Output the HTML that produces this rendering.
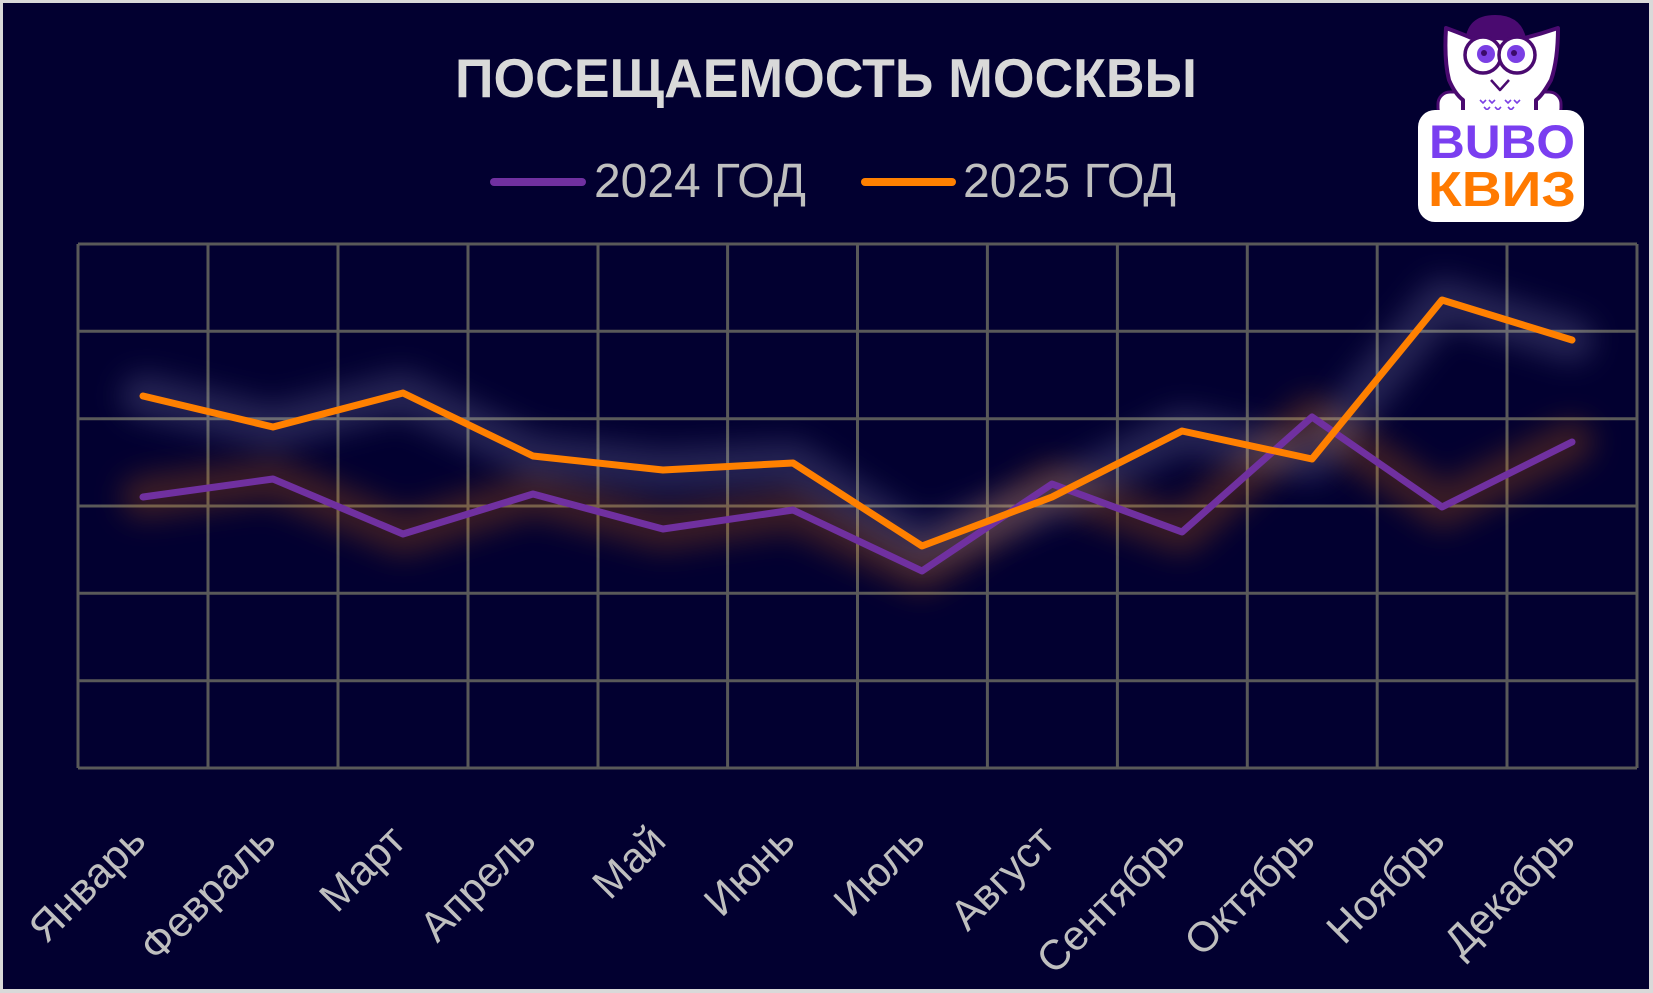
<!DOCTYPE html>
<html>
<head>
<meta charset="utf-8">
<style>
  html,body{margin:0;padding:0;background:#d9d9d9;}
  svg{display:block;}
</style>
</head>
<body>
<svg width="1653" height="993" viewBox="0 0 1653 993" xmlns="http://www.w3.org/2000/svg">
  <defs>
    <filter id="blur" x="-20%" y="-60%" width="140%" height="220%">
      <feGaussianBlur stdDeviation="14"/>
    </filter>
  </defs>
  <rect x="0" y="0" width="1653" height="993" fill="#d9d9d9"/>
  <rect x="3" y="3" width="1646" height="986" fill="#020030"/>

  <!-- Title -->
  <text x="455" y="97" font-family="'Liberation Sans', sans-serif" font-weight="bold" font-size="55" fill="#d9d9d9" textLength="742" lengthAdjust="spacingAndGlyphs">ПОСЕЩАЕМОСТЬ МОСКВЫ</text>

  <!-- Legend -->
  <line x1="494" y1="182" x2="582" y2="182" stroke="#7030a0" stroke-width="8" stroke-linecap="round"/>
  <text x="594" y="197" font-family="'Liberation Sans', sans-serif" font-size="48" fill="#bfbfbf" textLength="212" lengthAdjust="spacingAndGlyphs">2024 ГОД</text>
  <line x1="865" y1="182" x2="952" y2="182" stroke="#ff8000" stroke-width="8" stroke-linecap="round"/>
  <text x="963" y="197" font-family="'Liberation Sans', sans-serif" font-size="48" fill="#bfbfbf" textLength="213" lengthAdjust="spacingAndGlyphs">2025 ГОД</text>

  <!-- Grid -->
  <g stroke="#595959" stroke-width="3" fill="none">
    <line x1="78" y1="244" x2="1637" y2="244"/>
    <line x1="78" y1="331.3" x2="1637" y2="331.3"/>
    <line x1="78" y1="418.7" x2="1637" y2="418.7"/>
    <line x1="78" y1="506" x2="1637" y2="506"/>
    <line x1="78" y1="593.3" x2="1637" y2="593.3"/>
    <line x1="78" y1="680.7" x2="1637" y2="680.7"/>
    <line x1="78" y1="768" x2="1637" y2="768"/>
    <line x1="78" y1="244" x2="78" y2="768"/>
    <line x1="208" y1="244" x2="208" y2="768"/>
    <line x1="338" y1="244" x2="338" y2="768"/>
    <line x1="468" y1="244" x2="468" y2="768"/>
    <line x1="598" y1="244" x2="598" y2="768"/>
    <line x1="727.6" y1="244" x2="727.6" y2="768"/>
    <line x1="857.5" y1="244" x2="857.5" y2="768"/>
    <line x1="987.4" y1="244" x2="987.4" y2="768"/>
    <line x1="1117.4" y1="244" x2="1117.4" y2="768"/>
    <line x1="1247.3" y1="244" x2="1247.3" y2="768"/>
    <line x1="1377.2" y1="244" x2="1377.2" y2="768"/>
    <line x1="1507" y1="244" x2="1507" y2="768"/>
    <line x1="1637" y1="244" x2="1637" y2="768"/>
  </g>

  <!-- Glows -->
  <polyline filter="url(#blur)" fill="none" stroke="#ff8000" stroke-opacity="0.22" stroke-width="44" stroke-linecap="round" stroke-linejoin="round"
    points="143,497 273,479 403,534 533,494 663,529 793,510 922,571 1052,484 1182,532 1312,417 1442,507 1572,442"/>
  <polyline filter="url(#blur)" fill="none" stroke="#d0d0ff" stroke-opacity="0.17" stroke-width="44" stroke-linecap="round" stroke-linejoin="round"
    points="143,396 273,427 403,393 533,456 663,470 793,463 922,546 1052,497 1182,431 1312,459 1442,300 1572,340"/>

  <!-- Series -->
  <polyline fill="none" stroke="#7030a0" stroke-width="7" stroke-linecap="round" stroke-linejoin="round"
    points="143,497 273,479 403,534 533,494 663,529 793,510 922,571 1052,484 1182,532 1312,417 1442,507 1572,442"/>
  <polyline fill="none" stroke="#ff8000" stroke-width="7" stroke-linecap="round" stroke-linejoin="round"
    points="143,396 273,427 403,393 533,456 663,470 793,463 922,546 1052,497 1182,431 1312,459 1442,300 1572,340"/>

  <!-- Month labels -->
  <g font-family="'Liberation Sans', sans-serif" font-size="42" fill="#bfbfbf" text-anchor="end">
    <text x="148" y="843" transform="rotate(-45 148 843)">Январь</text>
    <text x="278" y="843" transform="rotate(-45 278 843)">Февраль</text>
    <text x="408" y="843" transform="rotate(-45 408 843)">Март</text>
    <text x="538" y="843" transform="rotate(-45 538 843)">Апрель</text>
    <text x="668" y="843" transform="rotate(-45 668 843)">Май</text>
    <text x="797" y="843" transform="rotate(-45 797 843)">Июнь</text>
    <text x="927" y="843" transform="rotate(-45 927 843)">Июль</text>
    <text x="1057" y="843" transform="rotate(-45 1057 843)">Август</text>
    <text x="1187" y="843" transform="rotate(-45 1187 843)">Сентябрь</text>
    <text x="1317" y="843" transform="rotate(-45 1317 843)">Октябрь</text>
    <text x="1447" y="843" transform="rotate(-45 1447 843)">Ноябрь</text>
    <text x="1577" y="843" transform="rotate(-45 1577 843)">Декабрь</text>
  </g>

  <!-- Logo -->
  <g>
    <path d="M1465,44 Q1466,15 1495,15 Q1524,15 1527,44 Z" fill="#4a0a70"/>
    <rect x="1438" y="92" width="34" height="28" rx="12" fill="#ffffff" stroke="#4a0a70" stroke-width="3"/>
    <rect x="1527" y="92" width="34" height="28" rx="12" fill="#ffffff" stroke="#4a0a70" stroke-width="3"/>
    <path d="M1446,28 Q1468,36 1478,41 Q1495,35 1512,41 Q1535,36 1558,28 Q1558,60 1551,80 Q1542,96 1536,100 L1536,116 L1463,116 L1463,100 Q1455,94 1449,80 Q1444,60 1446,28 Z" fill="#ffffff" stroke="#4a0a70" stroke-width="4" stroke-linejoin="round"/>
    <circle cx="1483" cy="55" r="18" fill="#ffffff" stroke="#4a0a70" stroke-width="3.5"/>
    <circle cx="1517" cy="55" r="18" fill="#ffffff" stroke="#4a0a70" stroke-width="3.5"/>
    <circle cx="1486" cy="54" r="9" fill="#7b3fe4"/>
    <circle cx="1516" cy="54" r="9" fill="#7b3fe4"/>
    <circle cx="1484" cy="53" r="3" fill="#3a0a6a"/>
    <circle cx="1514" cy="53" r="3" fill="#3a0a6a"/>
    <polyline points="1491,80 1500,90 1509,80" fill="none" stroke="#4a0a70" stroke-width="2.5" stroke-linejoin="round"/>
    <g fill="none" stroke="#7b3fe4" stroke-width="1.6">
      <polyline points="1480,100 1483,103 1486,100"/>
      <polyline points="1489,100 1492,103 1495,100"/>
      <polyline points="1505,100 1508,103 1511,100"/>
      <polyline points="1514,100 1517,103 1520,100"/>
      <polyline points="1484,107 1487,110 1490,107"/>
      <polyline points="1495,107 1498,110 1501,107"/>
      <polyline points="1508,107 1511,110 1514,107"/>
    </g>
    <rect x="1418" y="110" width="166" height="112" rx="17" fill="#ffffff"/>
    <text x="1429" y="158" font-family="'Liberation Sans', sans-serif" font-weight="bold" font-size="47" fill="#7a3ef0" textLength="146" lengthAdjust="spacingAndGlyphs">BUBO</text>
    <text x="1428" y="206" font-family="'Liberation Sans', sans-serif" font-weight="bold" font-size="49" fill="#ff7a00" textLength="148" lengthAdjust="spacingAndGlyphs">КВИЗ</text>
  </g>
</svg>
</body>
</html>
